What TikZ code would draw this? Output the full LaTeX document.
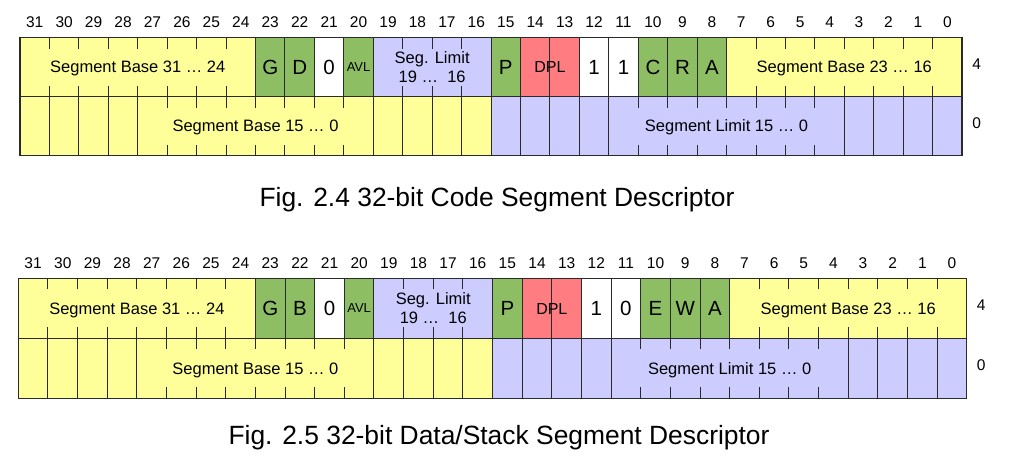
\documentclass[tikz,border=0pt]{standalone}
\usepackage{fontspec}
\setmainfont{Liberation Sans}
\definecolor{segyellow}{HTML}{FFFF99}
\definecolor{seglav}{HTML}{CCCCFF}
\definecolor{seggreen}{HTML}{8DBE64}
\definecolor{segred}{HTML}{FF7C80}
\definecolor{segline}{HTML}{2A2A2A}
\tikzset{
  bitnum/.style={font=\fontsize{15.5}{18}\selectfont, inner sep=0pt, text height=11.1pt, text depth=0pt},
  fieldtxt/.style={font=\fontsize{16.5}{19.5}\selectfont, inner sep=0pt, text height=11.8pt, text depth=0pt},
  twoline/.style={font=\fontsize{16.5}{19}\selectfont, inner sep=0pt, align=center},
  bigtxt/.style={font=\fontsize{20.5}{24}\selectfont, inner sep=0pt, text height=14.7pt, text depth=0pt},
  smalltxt/.style={font=\fontsize{13}{15}\selectfont, inner sep=0pt, text height=9.3pt, text depth=0pt},
  dpltxt/.style={font=\fontsize{16}{19}\selectfont, inner sep=0pt, text height=11.5pt, text depth=0pt},
  rowlbl/.style={font=\fontsize{15.5}{18}\selectfont, inner sep=0pt, text height=11.1pt, text depth=0pt},
  figcap/.style={font=\fontsize{26.4}{31}\selectfont, inner sep=0pt, text height=18.9pt, text depth=0pt},
  gridline/.style={draw=segline, line width=1pt},
  frameline/.style={draw=segline, line width=1.4pt},
}
% field rectangle: colour, high bit, low bit, row
\newcommand\fld[4]{\fill[#1] ({\dX+(31-#2)*\dW},{\dY+#4*\dH}) rectangle ({\dX+(32-#3)*\dW},{\dY+(#4+1)*\dH});}
% full divider: boundary index, row
\newcommand\fline[2]{\draw[gridline] ({\dX+#1*\dW},{\dY+#2*\dH}) -- ++(0,\dH);}
% ticks: boundary index, row
\newcommand\tck[2]{\draw[gridline] ({\dX+#1*\dW},{\dY+#2*\dH}) -- ++(0,11) ({\dX+#1*\dW},{\dY+(#2+1)*\dH}) -- ++(0,-11);}
% field text: style, name, high bit, low bit, row, text
\newcommand\ftxt[6]{\node[#1] (#2) at ({\dX+(63-#3-#4)/2*\dW},{\dY+(#5+0.5)*\dH}) {#6};}
% descriptor: x0, y0, bit width, row height, id, bit22, bit11, bit10, bit9
\newcommand\descriptor[9]{%
  \def\dX{#1}\def\dY{#2}\def\dW{#3}\def\dH{#4}%
  \fld{segyellow}{31}{24}{0}
  \fld{seggreen}{23}{22}{0}
  \fld{white}{21}{21}{0}
  \fld{seggreen}{20}{20}{0}
  \fld{seglav}{19}{16}{0}
  \fld{seggreen}{15}{15}{0}
  \fld{segred}{14}{13}{0}
  \fld{white}{12}{11}{0}
  \fld{seggreen}{10}{8}{0}
  \fld{segyellow}{7}{0}{0}
  \fld{segyellow}{31}{16}{1}
  \fld{seglav}{15}{0}{1}
  \foreach \k in {1,...,7,13,14,15,25,26,...,31} {\tck{\k}{0}}
  \foreach \k in {8,...,12,16,17,...,24} {\fline{\k}{0}}
  \foreach \k in {5,...,11,21,22,...,27} {\tck{\k}{1}}
  \foreach \k in {1,...,4,12,13,...,20,28,29,30,31} {\fline{\k}{1}}
  \draw[gridline] (\dX,{\dY+\dH}) -- ({\dX+32*\dW},{\dY+\dH});
  \draw[frameline] (\dX,\dY) rectangle ({\dX+32*\dW},{\dY+2*\dH});
  \foreach \b in {0,...,31} {\node[bitnum] (#5-n\b) at ({\dX+(31.5-\b)*\dW},{\dY-15.5}) {\b};}
  \ftxt{fieldtxt}{#5-base3124}{31}{24}{0}{Segment Base 31 … 24}
  \ftxt{bigtxt}{#5-g}{23}{23}{0}{G}
  \ftxt{bigtxt}{#5-d}{22}{22}{0}{#6}
  \ftxt{bigtxt}{#5-z}{21}{21}{0}{0}
  \ftxt{smalltxt}{#5-avl}{20}{20}{0}{AVL}
  \node[twoline] (#5-lim1916) at ({\dX+(63-19-16)/2*\dW},{\dY+0.5*\dH}) {Seg. Limit\\19 … \ 16};
  \ftxt{bigtxt}{#5-p}{15}{15}{0}{P}
  \ftxt{dpltxt}{#5-dpl}{14}{13}{0}{DPL}
  \ftxt{bigtxt}{#5-b12}{12}{12}{0}{1}
  \ftxt{bigtxt}{#5-b11}{11}{11}{0}{#7}
  \ftxt{bigtxt}{#5-b10}{10}{10}{0}{#8}
  \ftxt{bigtxt}{#5-b9}{9}{9}{0}{#9}
  \ftxt{bigtxt}{#5-a}{8}{8}{0}{A}
  \ftxt{fieldtxt}{#5-base2316}{7}{0}{0}{Segment Base 23 … 16}
  \ftxt{fieldtxt}{#5-base150}{31}{16}{1}{Segment Base 15 … 0}
  \ftxt{fieldtxt}{#5-lim150}{15}{0}{1}{Segment Limit 15 … 0}
  \node[rowlbl] (#5-r4) at ({\dX+32*\dW+14.5},{\dY+0.45*\dH}) {4};
  \node[rowlbl] (#5-r0) at ({\dX+32*\dW+14.5},{\dY+1.45*\dH}) {0};
}
\begin{document}
\begin{tikzpicture}[x=1pt,y=-1pt]
  \fill[white] (0,0) rectangle (1017,455);
  \useasboundingbox (0,0) rectangle (1017,455);
  \descriptor{20}{37.5}{29.44}{59}{cs}{D}{1}{C}{R}
  \node[figcap] (cap1) at (497,197) {Fig. 2.4 32-bit Code Segment Descriptor};
  \descriptor{18.3}{278.3}{29.64}{60}{ds}{B}{0}{E}{W}
  \node[figcap] (cap2) at (499,435) {Fig. 2.5 32-bit Data/Stack Segment Descriptor};
\end{tikzpicture}
\end{document}
